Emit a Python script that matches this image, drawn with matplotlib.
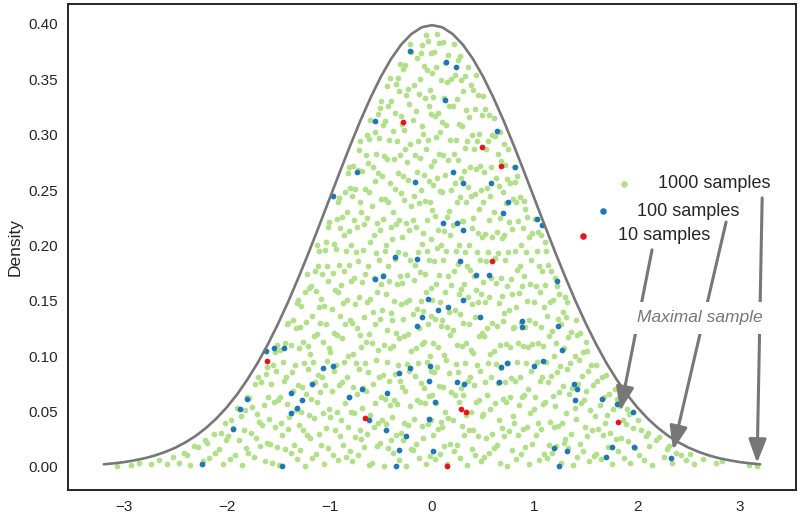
import matplotlib
matplotlib.use("Agg")
import matplotlib.pyplot as plt
from matplotlib.legend import Legend
import numpy as np

plt.rcParams['font.family'] = ['Liberation Sans', 'DejaVu Sans']

# ---------------- data ----------------
curve_x = [-3.2, -3.1, -3.0, -2.9, -2.8, -2.7, -2.6, -2.5, -2.4, -2.3, -2.2, -2.1, -2.0,
           -1.9, -1.8, -1.7, -1.6, -1.5, -1.4, -1.3, -1.2, -1.1, -1.0, -0.9, -0.8, -0.7,
           -0.6, -0.5, -0.4, -0.3, -0.2, -0.1, 0.0, 0.1, 0.2, 0.3, 0.4, 0.5, 0.6, 0.7,
           0.8, 0.9, 1.0, 1.1, 1.2, 1.3, 1.4, 1.5, 1.6, 1.7, 1.8, 1.9, 2.0, 2.1, 2.2,
           2.3, 2.4, 2.5, 2.6, 2.7, 2.8, 2.9, 3.0, 3.1, 3.2]
curve_y = [.0024, .0033, .0044, .0060, .0079, .0104, .0136, .0175, .0224, .0283, .0355, .0440, .0540,
           .0656, .0790, .0940, .1109, .1295, .1497, .1714, .1942, .2179, .2420, .2661, .2897, .3123,
           .3332, .3521, .3683, .3814, .3910, .3970, .3989, .3970, .3910, .3814, .3683, .3521, .3332, .3123,
           .2897, .2661, .2420, .2179, .1942, .1714, .1497, .1295, .1109, .0940, .0790, .0656, .0540, .0440, .0355,
           .0283, .0224, .0175, .0136, .0104, .0079, .0060, .0044, .0033, .0024]

green_x = [
    .03,.08,.01,.06,.09,.04,.00,.07,.02,.05,.06,.01,.09,.03,.08,.00,.04,.07,.02,.05,.09,.06,.03,.00,.08,.01,.05,.02,.07,.04,.08,.03,.06,.01,.09,.00,.04,.02,.07,.05,
    .15,.12,.18,.10,.16,.13,.19,.11,.17,.14,.12,.18,.15,.10,.17,.13,.19,.16,.11,.14,.18,.12,.15,.17,.10,.19,.13,.16,.11,.18,.14,.10,.17,.12,.15,.19,.13,.16,.11,
    .27,.21,.24,.29,.20,.26,.22,.28,.25,.23,.29,.24,.20,.27,.22,.26,.28,.21,.25,.23,.26,.20,.29,.24,.27,.22,.28,.25,.21,.23,.29,.26,.20,.24,.28,.22,.25,.27,.21,
    .34,.39,.31,.36,.33,.38,.30,.35,.37,.32,.38,.33,.36,.30,.39,.35,.31,.37,.34,.32,.36,.39,.30,.33,.38,.35,.31,.37,.32,.34,.39,.36,.33,.30,.38,.32,.35,
    .48,.42,.45,.40,.49,.43,.46,.41,.47,.44,.40,.46,.49,.42,.45,.48,.43,.41,.47,.44,.49,.45,.40,.46,.42,.48,.43,.47,.41,.44,.46,.49,.42,.45,.40,.43,
    .51,.56,.53,.59,.50,.57,.54,.52,.58,.55,.57,.51,.54,.59,.52,.56,.50,.58,.53,.55,.59,.52,.56,.50,.57,.54,.51,.58,.53,.55,.59,.56,.52,.50,
    .66,.60,.63,.68,.65,.61,.69,.64,.67,.62,.60,.66,.63,.69,.65,.68,.62,.67,.61,.64,.68,.63,.66,.60,.69,.65,.62,.67,.64,.61,.66,.60,
    .73,.78,.70,.75,.79,.72,.76,.71,.77,.74,.76,.72,.79,.70,.75,.78,.73,.77,.71,.74,.70,.78,.75,.72,.79,.76,.73,.71,.74,.70,
    .82,.87,.84,.89,.80,.85,.88,.81,.86,.83,.89,.84,.80,.87,.82,.85,.88,.83,.86,.81,.87,.89,.84,.82,.86,.81,.83,.80,
    .95,.91,.98,.93,.96,.99,.90,.94,.97,.92,.94,.98,.91,.95,.99,.93,.96,.90,.97,.92,.95,.98,.93,.91,.90,
    1.04,1.09,1.01,1.06,1.03,1.08,1.00,1.05,1.07,1.02,1.08,1.03,1.06,1.00,1.09,1.05,1.01,1.07,1.04,1.02,1.06,1.03,1.00,
    1.12,1.17,1.14,1.19,1.15,1.10,1.18,1.13,1.16,1.11,1.19,1.14,1.17,1.12,1.15,1.18,1.10,1.16,1.13,1.11,1.10,
    1.26,1.21,1.29,1.23,1.27,1.20,1.24,1.28,1.22,1.25,1.29,1.21,1.26,1.23,1.28,1.24,1.22,1.20,
    1.38,1.33,1.30,1.36,1.31,1.39,1.34,1.37,1.32,1.35,1.39,1.33,1.36,1.31,1.32,1.30,
    1.41,1.47,1.44,1.49,1.40,1.45,1.48,1.42,1.46,1.43,1.47,1.41,1.44,1.40,
    1.53,1.58,1.51,1.56,1.59,1.54,1.50,1.57,1.52,1.55,1.51,1.50,
    1.65,1.60,1.67,1.62,1.69,1.64,1.68,1.61,1.66,1.60,
    1.76,1.72,1.79,1.74,1.71,1.77,1.73,1.78,1.70,
    1.87,1.81,1.84,1.89,1.86,1.83,1.80,
    1.93,1.98,1.91,1.96,1.92,1.90,
    2.07,2.02,2.09,2.04,2.01,
    2.15,2.12,2.18,2.11,
    2.26,2.29,2.21,
    2.34,2.38,2.31,
    2.43,2.48,
    2.56,2.52,
    2.64,2.77,2.83,
    3.09,3.17,
    -.06,-.02,-.09,-.04,-.005,-.07,-.03,-.08,-.01,-.05,-.02,-.08,-.04,-.005,-.09,-.06,-.01,-.07,-.03,-.05,-.005,-.09,-.05,-.02,-.07,-.03,-.08,-.01,-.06,-.04,-.09,-.005,-.03,-.07,-.02,-.05,-.08,-.01,-.04,-.06,
    -.13,-.19,-.16,-.10,-.18,-.12,-.15,-.11,-.17,-.14,-.16,-.10,-.13,-.19,-.15,-.11,-.18,-.12,-.17,-.14,-.10,-.16,-.19,-.13,-.18,-.11,-.15,-.12,-.17,-.14,-.10,-.19,-.16,-.13,-.18,-.12,-.15,-.11,-.10,
    -.25,-.20,-.28,-.23,-.27,-.21,-.26,-.29,-.22,-.24,-.20,-.27,-.23,-.28,-.25,-.22,-.29,-.24,-.21,-.26,-.29,-.22,-.25,-.20,-.27,-.23,-.28,-.24,-.26,-.21,-.27,-.29,-.22,-.25,-.23,-.28,-.26,-.20,-.21,
    -.32,-.38,-.35,-.30,-.39,-.34,-.37,-.31,-.36,-.33,-.38,-.32,-.35,-.39,-.30,-.37,-.34,-.31,-.36,-.33,-.39,-.35,-.32,-.38,-.30,-.36,-.33,-.37,-.31,-.34,-.38,-.30,-.36,-.32,-.35,-.33,-.31,
    -.47,-.43,-.40,-.45,-.49,-.41,-.46,-.42,-.48,-.44,-.41,-.47,-.44,-.40,-.49,-.45,-.42,-.48,-.43,-.46,-.45,-.40,-.48,-.43,-.46,-.41,-.49,-.44,-.47,-.42,-.48,-.46,-.43,-.40,-.44,-.41,
    -.59,-.54,-.51,-.57,-.53,-.56,-.50,-.58,-.52,-.55,-.53,-.59,-.56,-.51,-.58,-.54,-.50,-.57,-.52,-.55,-.57,-.51,-.54,-.59,-.50,-.56,-.53,-.58,-.55,-.52,-.56,-.53,-.51,-.50,
    -.61,-.66,-.69,-.63,-.60,-.68,-.64,-.67,-.62,-.65,-.69,-.64,-.61,-.66,-.63,-.60,-.68,-.65,-.62,-.67,-.60,-.66,-.63,-.69,-.61,-.65,-.68,-.62,-.64,-.61,-.63,-.60,
    -.78,-.72,-.75,-.70,-.76,-.79,-.73,-.77,-.71,-.74,-.77,-.70,-.73,-.78,-.75,-.71,-.79,-.76,-.72,-.74,-.79,-.73,-.76,-.70,-.78,-.75,-.72,-.77,-.71,-.70,
    -.84,-.80,-.87,-.82,-.89,-.85,-.81,-.88,-.83,-.86,-.82,-.88,-.85,-.80,-.87,-.83,-.89,-.86,-.81,-.84,-.86,-.81,-.88,-.83,-.85,-.80,-.82,-.81,
    -.92,-.97,-.90,-.95,-.99,-.93,-.98,-.91,-.96,-.94,-.99,-.93,-.96,-.90,-.98,-.92,-.95,-.97,-.91,-.94,-.96,-.90,-.93,-.92,-.91,
    -1.05,-1.01,-1.08,-1.03,-1.06,-1.00,-1.09,-1.04,-1.07,-1.02,-1.00,-1.06,-1.03,-1.09,-1.05,-1.08,-1.01,-1.07,-1.02,-1.04,-1.03,-1.01,-1.00,
    -1.17,-1.13,-1.19,-1.10,-1.15,-1.12,-1.18,-1.14,-1.11,-1.16,-1.19,-1.15,-1.12,-1.17,-1.10,-1.13,-1.18,-1.14,-1.11,-1.10,-1.12,
    -1.24,-1.29,-1.22,-1.26,-1.20,-1.28,-1.23,-1.27,-1.21,-1.25,-1.21,-1.26,-1.29,-1.23,-1.28,-1.24,-1.20,-1.22,
    -1.32,-1.38,-1.35,-1.30,-1.39,-1.33,-1.36,-1.31,-1.37,-1.34,-1.30,-1.38,-1.33,-1.36,-1.32,-1.31,
    -1.49,-1.43,-1.46,-1.40,-1.47,-1.41,-1.48,-1.44,-1.42,-1.45,-1.48,-1.43,-1.41,-1.40,
    -1.56,-1.51,-1.58,-1.53,-1.59,-1.54,-1.50,-1.57,-1.52,-1.55,-1.53,-1.51,
    -1.63,-1.68,-1.61,-1.66,-1.69,-1.64,-1.60,-1.67,-1.62,-1.61,
    -1.74,-1.79,-1.72,-1.77,-1.71,-1.76,-1.78,-1.73,-1.70,
    -1.85,-1.81,-1.88,-1.83,-1.86,-1.82,-1.80,
    -1.97,-1.92,-1.99,-1.94,-1.96,-1.90,
    -2.04,-2.08,-2.01,-2.06,-2.02,
    -2.17,-2.12,-2.19,-2.13,
    -2.23,-2.28,-2.21,
    -2.36,-2.39,-2.32,
    -2.47,-2.42,
    -2.53,-2.58,
    -2.66,-2.74,-2.86,-2.94,-3.07,
]
green_y = [
    .007,.012,.029,.034,.041,.058,.065,.073,.086,.090,.108,.112,.127,.134,.149,.151,.165,.173,.186,.198,.200,.214,.227,.232,.249,.255,.261,.276,.283,.298,.302,.317,.320,.334,.349,.356,.361,.375,.383,.391,
    .003,.019,.021,.036,.044,.050,.068,.072,.085,.097,.101,.119,.126,.133,.140,.158,.164,.172,.187,.195,.209,.213,.226,.231,.248,.250,.264,.277,.282,.295,.309,.311,.326,.333,.348,.350,.365,.372,.384,
    .008,.014,.020,.037,.042,.059,.065,.071,.086,.093,.109,.110,.124,.138,.142,.156,.161,.177,.183,.195,.200,.218,.222,.239,.244,.256,.261,.277,.283,.295,.308,.310,.326,.332,.349,.354,.367,.371,.382,
    .002,.016,.029,.033,.047,.050,.065,.078,.081,.094,.106,.112,.129,.130,.147,.153,.165,.178,.181,.194,.200,.216,.222,.239,.245,.253,.267,.271,.288,.294,.300,.316,.322,.339,.345,.353,.361,
    .005,.011,.028,.033,.046,.059,.060,.074,.087,.092,.103,.118,.121,.135,.149,.156,.160,.172,.187,.194,.208,.211,.225,.233,.246,.250,.269,.272,.287,.294,.301,.318,.323,.336,.340,.354,
    .009,.013,.026,.030,.048,.052,.065,.077,.081,.094,.102,.118,.125,.130,.149,.153,.167,.171,.186,.194,.208,.210,.223,.239,.245,.252,.266,.271,.287,.294,.300,.318,.323,.335,
    .004,.017,.020,.035,.042,.058,.061,.076,.089,.093,.105,.110,.127,.132,.148,.154,.166,.171,.189,.193,.207,.212,.225,.230,.248,.254,.261,.276,.283,.299,.302,.315,
    .001,.015,.028,.032,.046,.059,.063,.077,.080,.094,.108,.111,.125,.139,.142,.156,.163,.170,.187,.194,.209,.215,.221,.238,.242,.256,.260,.273,.287,.292,
    .007,.012,.029,.034,.040,.056,.063,.078,.081,.095,.109,.112,.126,.130,.144,.157,.163,.178,.181,.195,.200,.216,.222,.239,.244,.257,.263,.271,
    .003,.018,.021,.036,.049,.052,.065,.070,.087,.094,.108,.111,.126,.133,.149,.150,.165,.172,.187,.194,.208,.211,.226,.233,.240,
    .006,.012,.029,.034,.040,.057,.063,.078,.081,.095,.109,.112,.126,.130,.144,.158,.163,.177,.181,.195,.209,.212,.224,
    .008,.013,.020,.036,.041,.059,.064,.077,.082,.095,.100,.118,.123,.136,.149,.151,.164,.177,.182,.195,.203,
    .004,.019,.022,.037,.040,.055,.068,.073,.086,.091,.107,.112,.129,.134,.140,.156,.163,.171,
    .002,.017,.025,.030,.049,.053,.066,.071,.088,.094,.100,.117,.122,.135,.149,.153,
    .009,.014,.021,.036,.043,.058,.060,.075,.082,.097,.104,.119,.121,.133,
    .005,.010,.028,.033,.046,.051,.069,.074,.087,.092,.105,.113,
    .007,.012,.029,.034,.040,.056,.063,.078,.081,.092,
    .003,.018,.025,.031,.047,.052,.066,.070,.083,
    .008,.014,.026,.039,.042,.055,.061,
    .004,.017,.023,.035,.048,.052,
    .006,.011,.028,.033,.042,
    .002,.019,.024,.031,
    .009,.016,.027,
    .004,.013,.019,
    .011,.006,
    .003,.012,
    .007,.004,.005,
    .002,.001,
    .003,.010,.026,.039,.042,.058,.064,.071,.087,.095,.100,.113,.129,.136,.141,.158,.162,.174,.187,.195,.206,.211,.223,.239,.240,.258,.264,.272,.287,.295,.301,.319,.326,.333,.340,.358,.362,.374,.385,.390,
    .008,.015,.021,.037,.043,.059,.060,.076,.082,.094,.107,.111,.125,.138,.143,.150,.169,.176,.182,.194,.201,.217,.223,.238,.245,.250,.266,.279,.282,.294,.308,.313,.321,.337,.345,.350,.369,.374,.381,
    .001,.016,.024,.038,.040,.055,.069,.072,.087,.093,.105,.118,.120,.134,.149,.151,.166,.173,.187,.192,.208,.214,.220,.236,.241,.259,.263,.275,.287,.292,.304,.310,.328,.336,.341,.359,.363,.375,.382,
    .006,.013,.029,.031,.045,.057,.060,.078,.084,.092,.109,.116,.121,.133,.147,.150,.165,.172,.188,.194,.206,.219,.223,.230,.247,.251,.265,.278,.282,.294,.303,.317,.320,.339,.346,.351,.364,
    .001,.017,.024,.039,.042,.056,.061,.078,.083,.095,.107,.110,.124,.139,.142,.156,.168,.173,.181,.195,.200,.217,.224,.239,.242,.256,.263,.278,.281,.295,.309,.312,.326,.330,.344,.351,
    .004,.019,.022,.036,.040,.058,.063,.075,.081,.097,.106,.112,.129,.134,.140,.158,.165,.171,.187,.193,.209,.214,.220,.236,.242,.258,.265,.271,.283,.297,.302,.319,.324,.330,
    .002,.018,.025,.030,.047,.053,.069,.071,.086,.094,.108,.113,.120,.135,.149,.152,.167,.174,.181,.196,.203,.219,.225,.230,.248,.251,.267,.274,.282,.296,.300,.313,
    .005,.011,.027,.033,.049,.050,.066,.072,.088,.094,.102,.119,.125,.130,.147,.153,.168,.171,.186,.194,.200,.217,.223,.239,.245,.251,.268,.272,.286,.294,
    .009,.014,.020,.036,.042,.058,.063,.077,.081,.095,.100,.116,.129,.133,.148,.151,.164,.177,.182,.195,.209,.213,.226,.230,.248,.252,.265,.271,
    .006,.011,.028,.033,.045,.050,.069,.074,.087,.092,.104,.119,.121,.136,.143,.158,.160,.175,.182,.197,.201,.216,.224,.239,.243,
    .003,.017,.020,.035,.049,.052,.068,.074,.081,.096,.107,.113,.129,.130,.145,.152,.168,.174,.181,.196,.203,.217,.221,
    .008,.012,.026,.030,.044,.059,.061,.077,.083,.095,.102,.118,.120,.136,.144,.159,.163,.177,.181,.195,.200,
    .001,.015,.029,.033,.047,.050,.066,.072,.088,.094,.109,.113,.126,.131,.145,.158,.162,.174,
    .007,.013,.020,.038,.045,.051,.069,.074,.086,.092,.107,.110,.125,.133,.148,.151,
    .002,.016,.029,.034,.040,.057,.063,.078,.081,.095,.106,.112,.129,.130,
    .004,.018,.021,.036,.043,.059,.060,.075,.087,.092,.104,.110,
    .005,.019,.022,.038,.041,.056,.063,.077,.084,.090,
    .009,.013,.026,.031,.048,.054,.062,.075,.081,
    .002,.017,.024,.033,.046,.051,.063,
    .007,.011,.028,.035,.042,.053,
    .003,.016,.024,.031,.040,
    .008,.013,.022,.030,
    .005,.018,.024,
    .002,.011,.019,
    .004,.013,
    .009,.003,
    .006,.003,.004,.002,.001,
]

blue_x = [-0.215, 0.137, 0.234, 0.127, -0.556, 0.634, -0.732, 0.205, -0.166, 0.302,
          0.576, 0.810, -0.966, 0.741, 0.693, 1.024, 1.073, 0.107, 0.244, 0.302,
          -0.361, -0.146, 0.273, 0.429, 0.556, -0.556, -0.478, 1.220, -0.039, 0.302,
          0.059, 0.156, -0.098, 0.468, -0.146, 0.878, 0.878, 1.229, 1.268, 1.083,
          0.995, 0.732, 0.673, -0.020, -0.215, -0.322, -0.966, -1.063, -1.171, -0.029,
          0.244, 0.312, 0.654, 1.385, 1.415, 1.395, -0.683, -0.439, -0.810, -1.268,
          -0.615, -0.029, -0.449, -0.254, -0.322, 0.010, 1.190, 1.317, -0.351, 1.239,
          -1.620, -1.541, -1.444, -1.376, -1.805, -1.873, -1.376, -1.317, -1.941, -2.244,
          -1.463, 1.659, 1.805, 1.961, 1.756, 1.698, 1.971, 2.332, 0.029]
blue_y = [0.376, 0.366, 0.361, 0.331, 0.312, 0.303, 0.266, 0.266, 0.257, 0.256,
          0.256, 0.271, 0.245, 0.239, 0.229, 0.224, 0.218, 0.220, 0.220, 0.214,
          0.190, 0.188, 0.186, 0.173, 0.173, 0.170, 0.172, 0.168, 0.152, 0.151,
          0.142, 0.144, 0.135, 0.135, 0.127, 0.132, 0.126, 0.127, 0.106, 0.096,
          0.091, 0.094, 0.090, 0.091, 0.089, 0.085, 0.091, 0.089, 0.075, 0.078,
          0.077, 0.075, 0.077, 0.075, 0.070, 0.060, 0.070, 0.067, 0.063, 0.060,
          0.042, 0.043, 0.033, 0.028, 0.015, 0.014, 0.017, 0.014, 0.001, 0.001,
          0.105, 0.107, 0.107, 0.067, 0.061, 0.052, 0.049, 0.053, 0.034, 0.003,
          0.001, 0.061, 0.057, 0.050, 0.018, 0.009, 0.018, 0.008, 0.059]

red_x = [-0.283, 0.488, 0.673, 0.585, -1.610, -0.654, 0.283, 0.332, 0.146, 1.815]
red_y = [0.311, 0.289, 0.272, 0.186, 0.096, 0.044, 0.052, 0.050, 0.001, 0.041]

series_labels = ["1000 samples", "100 samples", "10 samples"]
annot_text = "Maximal sample"
y_ticks = [0.00, 0.05, 0.10, 0.15, 0.20, 0.25, 0.30, 0.35, 0.40]
x_ticks = [-3, -2, -1, 0, 1, 2, 3]

# ---------------- style ----------------
GREEN = '#b2df8a'
BLUE = '#1f78b4'
RED = '#e8141c'
GRAY = '#777777'
DARK = '#262626'

fig = plt.figure(figsize=(8.0, 5.18), dpi=100)
ax = fig.add_axes([0.085, 0.0541, 0.91, 0.9382])

ax.plot(curve_x, curve_y, color=GRAY, lw=1.9, zorder=3, solid_capstyle='round')

n_g = min(len(green_x), len(green_y))
sc_g = ax.scatter(green_x[:n_g], green_y[:n_g], s=17, c=GREEN, linewidths=0, zorder=2)
sc_b = ax.scatter(blue_x, blue_y, s=17, c=BLUE, linewidths=0, zorder=2.1)
sc_r = ax.scatter(red_x, red_y, s=17, c=RED, linewidths=0, zorder=2.2)

# legends (staggered rows)
legend_anchors = [(0.739, 0.630), (0.710, 0.574), (0.683, 0.523)]
for handle, label, anchor in zip([sc_g, sc_b, sc_r], series_labels, legend_anchors):
    leg = Legend(ax, [handle], [label], loc='center left', bbox_to_anchor=anchor,
                 frameon=False, fontsize=13, borderaxespad=0, borderpad=0,
                 handletextpad=0.9, handlelength=2, scatterpoints=1,
                 markerscale=1.15, labelcolor=DARK)
    ax.add_artist(leg)

# arrows to the maximal sample of each series
arrow_starts = [(3.22, 0.243), (2.868, 0.221), (2.146, 0.196)]
shrinks = [2, 6, 8]
for (xs, ys), (sx, sy), sb in zip([(green_x[:n_g], green_y[:n_g]), (blue_x, blue_y), (red_x, red_y)],
                                  arrow_starts, shrinks):
    i = int(np.argmax(xs))
    ax.annotate('', xy=(xs[i], ys[i]), xytext=(sx, sy),
                arrowprops=dict(arrowstyle='-|>,head_length=0.72,head_width=0.27',
                                mutation_scale=20, lw=2.2, color=GRAY,
                                shrinkA=0, shrinkB=sb),
                zorder=4)

ax.text(2.615, 0.1345, annot_text, style='italic', color=GRAY, fontsize=12.5,
        ha='center', va='center', zorder=6,
        bbox=dict(boxstyle='square,pad=0.5', fc='white', ec='none'))

ax.set_xlim(-3.55, 3.55)
ax.set_ylim(-0.0208, 0.418)
ax.set_xticks(x_ticks)
ax.set_yticks(y_ticks)
ax.set_yticklabels([f"{v:.2f}" for v in y_ticks])
ax.tick_params(length=0, pad=7, labelsize=11, labelcolor=DARK)
ax.set_ylabel('Density', fontsize=12.5, color=DARK, labelpad=4)
for sp in ax.spines.values():
    sp.set_color(DARK)
    sp.set_linewidth(1.4)

fig.savefig('out.png', dpi=100)
